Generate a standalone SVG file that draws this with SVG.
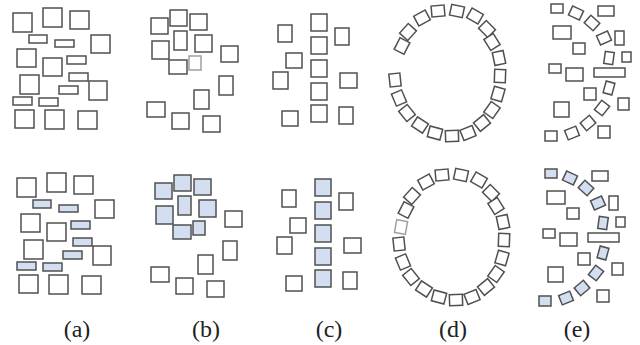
<svg xmlns="http://www.w3.org/2000/svg" width="640" height="345" viewBox="0 0 640 345">
<style>
rect{fill:#fff;stroke:#505050;stroke-width:1.5}
rect.b{fill:#d3dff0}
rect.l{stroke:#a0a0a0}
text{font-family:"Liberation Serif","Times New Roman",serif;font-size:24px;fill:#222;text-anchor:middle}
</style>
<defs>
<rect id="r" x="-6.5" y="-5.5" width="13" height="11"/>
<rect id="p" x="-6" y="-5" width="12" height="10"/>
<rect id="q" x="-6" y="-5" width="12" height="10" class="b"/>
<rect id="t" x="-4.5" y="-6" width="9" height="12"/>
<rect id="u" x="-4.5" y="-6" width="9" height="12" class="b"/>
</defs>
<g id="panel-a-top">
<rect x="13" y="13" width="19" height="19"/><rect x="43" y="8" width="19" height="19"/><rect x="70" y="11" width="19" height="18"/>
<rect x="91" y="35" width="19" height="18"/><rect x="17" y="49" width="19" height="18"/><rect x="43" y="58" width="19" height="18"/>
<rect x="20" y="75" width="19" height="19"/><rect x="89" y="81" width="18" height="19"/><rect x="15" y="110" width="19" height="18"/>
<rect x="45" y="110" width="19" height="19"/><rect x="78" y="111" width="19" height="18"/>
<rect x="29" y="35" width="18" height="8"/><rect x="55" y="40" width="19" height="7"/><rect x="67" y="56" width="19" height="8"/>
<rect x="69" y="73" width="19" height="8"/><rect x="59" y="86" width="19" height="8"/><rect x="13" y="97" width="19" height="8"/>
<rect x="39" y="98" width="19" height="8"/>
</g>
<g id="panel-a-bottom" transform="translate(4,165)">
<rect x="13" y="13" width="19" height="19"/><rect x="43" y="8" width="19" height="19"/><rect x="70" y="11" width="19" height="18"/>
<rect x="91" y="35" width="19" height="18"/><rect x="17" y="49" width="19" height="18"/><rect x="43" y="58" width="19" height="18"/>
<rect x="20" y="75" width="19" height="19"/><rect x="89" y="81" width="18" height="19"/><rect x="15" y="110" width="19" height="18"/>
<rect x="45" y="110" width="19" height="19"/><rect x="78" y="111" width="19" height="18"/>
<rect class="b" x="29" y="35" width="18" height="8"/><rect class="b" x="55" y="40" width="19" height="7"/><rect class="b" x="67" y="56" width="19" height="8"/>
<rect class="b" x="69" y="73" width="19" height="8"/><rect class="b" x="59" y="86" width="19" height="8"/><rect class="b" x="13" y="97" width="19" height="8"/>
<rect class="b" x="39" y="98" width="19" height="8"/>
</g>
<g id="panel-b-top">
<rect x="151" y="18" width="17" height="16"/><rect x="170" y="10" width="17" height="16"/><rect x="190" y="14" width="17" height="16"/>
<rect x="174" y="31" width="13" height="19"/><rect x="152" y="41" width="17" height="18"/><rect x="195" y="35" width="17" height="17"/>
<rect x="169" y="60" width="18" height="14"/><rect class="l" x="189" y="56" width="12" height="14"/>
<rect x="221" y="46" width="17" height="16"/><rect x="219" y="76" width="14" height="19"/><rect x="194" y="90" width="15" height="19"/>
<rect x="147" y="102" width="18" height="15"/><rect x="172" y="113" width="17" height="16"/><rect x="203" y="116" width="17" height="16"/>
</g>
<g id="panel-b-bottom" transform="translate(4,165)">
<rect class="b" x="151" y="18" width="17" height="16"/><rect class="b" x="170" y="10" width="17" height="16"/><rect class="b" x="190" y="14" width="17" height="16"/>
<rect class="b" x="174" y="31" width="13" height="19"/><rect class="b" x="152" y="41" width="17" height="18"/><rect class="b" x="195" y="35" width="17" height="17"/>
<rect class="b" x="169" y="60" width="18" height="14"/><rect class="b" x="189" y="56" width="12" height="14"/>
<rect x="221" y="46" width="17" height="16"/><rect x="219" y="76" width="14" height="19"/><rect x="194" y="90" width="15" height="19"/>
<rect x="147" y="102" width="18" height="15"/><rect x="172" y="113" width="17" height="16"/><rect x="203" y="116" width="17" height="16"/>
</g>
<g id="panel-c-top">
<rect x="311" y="14" width="16" height="17"/><rect x="311" y="37" width="16" height="17"/><rect x="311" y="60" width="16" height="17"/>
<rect x="311" y="83" width="16" height="17"/><rect x="311" y="105" width="16" height="17"/>
<rect x="278" y="25" width="14" height="17"/><rect x="335" y="28" width="14" height="17"/><rect x="286" y="53" width="16" height="15"/>
<rect x="273" y="72" width="15" height="17"/><rect x="340" y="73" width="17" height="15"/><rect x="282" y="111" width="16" height="15"/>
<rect x="339" y="107" width="14" height="17"/>
</g>
<g id="panel-c-bottom" transform="translate(4,165)">
<rect class="b" x="311" y="14" width="16" height="17"/><rect class="b" x="311" y="37" width="16" height="17"/><rect class="b" x="311" y="60" width="16" height="17"/>
<rect class="b" x="311" y="83" width="16" height="17"/><rect class="b" x="311" y="105" width="16" height="17"/>
<rect x="278" y="25" width="14" height="17"/><rect x="335" y="28" width="14" height="17"/><rect x="286" y="53" width="16" height="15"/>
<rect x="273" y="72" width="15" height="17"/><rect x="340" y="73" width="17" height="15"/><rect x="282" y="111" width="16" height="15"/>
<rect x="339" y="107" width="14" height="17"/>
</g>
<defs>
<g id="ring">
<use href="#r" transform="translate(438,11) rotate(-5)"/>
<use href="#r" transform="translate(457,11) rotate(12)"/>
<use href="#r" transform="translate(475,16) rotate(30)"/>
<use href="#r" transform="translate(487,29) rotate(45)"/>
<use href="#r" transform="translate(492,42) rotate(58)"/>
<use href="#r" transform="translate(499,58) rotate(78)"/>
<use href="#r" transform="translate(500,76) rotate(92)"/>
<use href="#r" transform="translate(498,94) rotate(106)"/>
<use href="#r" transform="translate(492,110) rotate(125)"/>
<use href="#r" transform="translate(482,123) rotate(141)"/>
<use href="#r" transform="translate(468,133) rotate(158)"/>
<use href="#r" transform="translate(452,136) rotate(178)"/>
<use href="#r" transform="translate(435,133) rotate(15)"/>
<use href="#r" transform="translate(420,125) rotate(33)"/>
<use href="#r" transform="translate(407,113) rotate(51)"/>
<use href="#r" transform="translate(399,98) rotate(67)"/>
<use href="#r" transform="translate(395,80) rotate(84)"/>
<use href="#r" transform="translate(402,46) rotate(-63)"/>
<use href="#r" transform="translate(408,32) rotate(-48)"/>
<use href="#r" transform="translate(422,18) rotate(-28)"/>
</g>
</defs>
<g id="panel-d-top"><use href="#ring"/></g>
<g id="panel-d-bottom" transform="translate(4,164)">
<use href="#ring"/>
<rect class="l" x="-6.5" y="-5.5" width="13" height="11" transform="translate(397,63) rotate(100)"/>
</g>
<g id="panel-e-top">
<rect x="551" y="4" width="12" height="9"/>
<use href="#p" transform="translate(576,13) rotate(25)"/>
<rect x="598" y="6" width="16" height="10"/>
<rect x="553" y="26" width="18" height="13"/>
<use href="#p" transform="translate(592,23) rotate(42)"/>
<use href="#p" transform="translate(604,38) rotate(-24)"/>
<rect x="615" y="31" width="9" height="14"/>
<rect x="573" y="43" width="12" height="11"/>
<use href="#t" transform="translate(609,58) rotate(8)"/>
<rect x="622" y="52" width="9" height="10"/>
<rect x="549" y="64" width="12" height="9"/>
<rect x="566" y="68" width="17" height="13"/>
<rect x="594" y="68" width="31" height="9"/>
<use href="#t" transform="translate(609,88) rotate(15)"/>
<rect x="584" y="88" width="12" height="12"/>
<rect x="554" y="102" width="15" height="15"/>
<use href="#p" transform="translate(602,108) rotate(-52)"/>
<rect x="618" y="98" width="11" height="12"/>
<use href="#p" transform="translate(588,123) rotate(-40)"/>
<use href="#p" transform="translate(572,133) rotate(-22)"/>
<rect x="545" y="131" width="12" height="10"/>
<rect x="598" y="126" width="12" height="12"/>
</g>
<g id="panel-e-bottom" transform="translate(-6,165)">
<rect class="b" x="551" y="4" width="12" height="9"/>
<use href="#q" transform="translate(576,13) rotate(25)"/>
<rect x="598" y="6" width="16" height="10"/>
<rect x="553" y="26" width="18" height="13"/>
<use href="#q" transform="translate(592,23) rotate(42)"/>
<use href="#q" transform="translate(604,38) rotate(-24)"/>
<rect x="615" y="31" width="9" height="14"/>
<rect x="573" y="43" width="12" height="11"/>
<use href="#u" transform="translate(609,58) rotate(8)"/>
<rect x="622" y="52" width="9" height="10"/>
<rect x="549" y="64" width="12" height="9"/>
<rect x="566" y="68" width="17" height="13"/>
<rect x="594" y="68" width="31" height="9"/>
<use href="#u" transform="translate(609,88) rotate(15)"/>
<rect x="584" y="88" width="12" height="12"/>
<rect x="554" y="102" width="15" height="15"/>
<use href="#q" transform="translate(602,108) rotate(-52)"/>
<rect x="618" y="98" width="11" height="12"/>
<use href="#q" transform="translate(588,123) rotate(-40)"/>
<use href="#q" transform="translate(572,133) rotate(-22)"/>
<rect class="b" x="545" y="131" width="12" height="10"/>
<rect x="603" y="125" width="12" height="12"/>
</g>
<g id="labels">
<text x="77" y="337">(a)</text>
<text x="206" y="337">(b)</text>
<text x="329" y="337">(c)</text>
<text x="453" y="337">(d)</text>
<text x="577" y="337">(e)</text>
</g>
</svg>
